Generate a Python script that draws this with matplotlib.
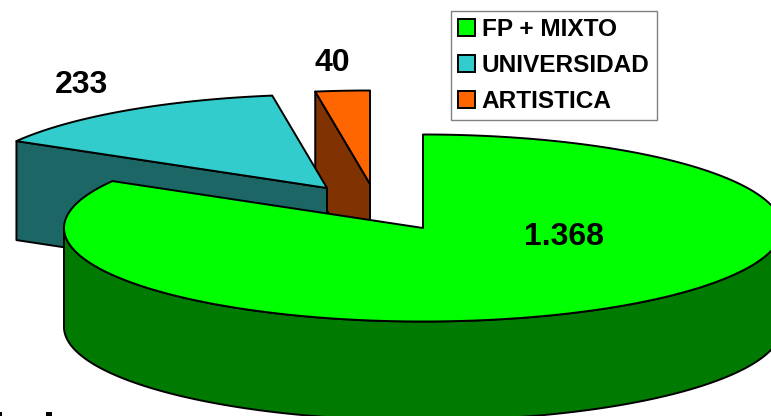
import numpy as np
import matplotlib
matplotlib.use("Agg")
import matplotlib.pyplot as plt
from matplotlib.patches import Polygon, Patch, Rectangle

categories = ["FP + MIXTO", "UNIVERSIDAD", "ARTISTICA"]
values = [1368, 233, 40]
value_labels = ["1.368", "233", "40"]
top_colors = ["#00FF00", "#33CCCC", "#FF6600"]
wall_colors = ["#007A00", "#1C6666", "#803300"]
offsets = [(0, 0), (-96, -40), (-53, -44)]
label_pos = [(564, 237), (81, 85), (332, 63)]

CX, CY, RX, RY, DEPTH = 423, 228, 359, 93.5, 99
LW = 1.4

plt.rcParams["font.family"] = ["Liberation Sans", "DejaVu Sans"]
fig = plt.figure(figsize=(7.71, 4.16), dpi=100, facecolor="white")
ax = fig.add_axes([0, 0, 1, 1])
ax.set_xlim(0, 771)
ax.set_ylim(416, 0)
ax.axis("off")


def rim(a0, a1, cx, cy):
    t = np.radians(np.linspace(a0, a1, 300))
    return np.column_stack([cx + RX * np.sin(t), cy - RY * np.cos(t)])


fractions = np.array(values) / sum(values) * 360
starts = np.concatenate([[0], np.cumsum(fractions)[:-1]])
ends = starts + fractions


def draw_slice(i):
    cx, cy = CX + offsets[i][0], CY + offsets[i][1]
    a0, a1 = starts[i], ends[i]
    apex = np.array([cx, cy])
    down = np.array([0, DEPTH])
    style = dict(edgecolor="black", linewidth=LW, joinstyle="round")
    if i == 0:
        front = rim(90, 270, cx, cy)
        wall = np.vstack([front, (front + down)[::-1]])
    else:
        p = rim(a0, a0, cx, cy)[0]
        wall = np.array([p, apex, apex + down, p + down])
    ax.add_patch(Polygon(wall, closed=True, facecolor=wall_colors[i], **style))
    top = np.vstack([apex, rim(a0, a1, cx, cy)])
    ax.add_patch(Polygon(top, closed=True, facecolor=top_colors[i], **style))


for i in [2, 1, 0]:
    draw_slice(i)

for lab, (x, y) in zip(value_labels, label_pos):
    ax.text(x, y, lab, fontsize=23, fontweight="bold", ha="center", va="center", color="black")

# clipped remnants of text at the lower edge of the picture
ax.add_patch(Rectangle((0, 412), 2, 4, color="black", lw=0))
ax.add_patch(Rectangle((46, 412), 6, 4, color="black", lw=0))

handles = [Patch(facecolor=c, edgecolor="black", linewidth=LW) for c in top_colors]
leg = ax.legend(
    handles, categories, loc="upper left",
    bbox_to_anchor=(451 / 771, 1 - 11 / 416), bbox_transform=ax.transAxes,
    prop=dict(family="Liberation Sans", weight="bold", size=17.55),
    fancybox=False, framealpha=1, edgecolor="#808080",
    handlelength=0.7, handleheight=0.7, handletextpad=0.26,
    labelspacing=0.53, borderpad=0.3, borderaxespad=0, labelcolor="black",
)
leg.get_frame().set_linewidth(1.0)
fig.savefig("out.png", dpi=100)
